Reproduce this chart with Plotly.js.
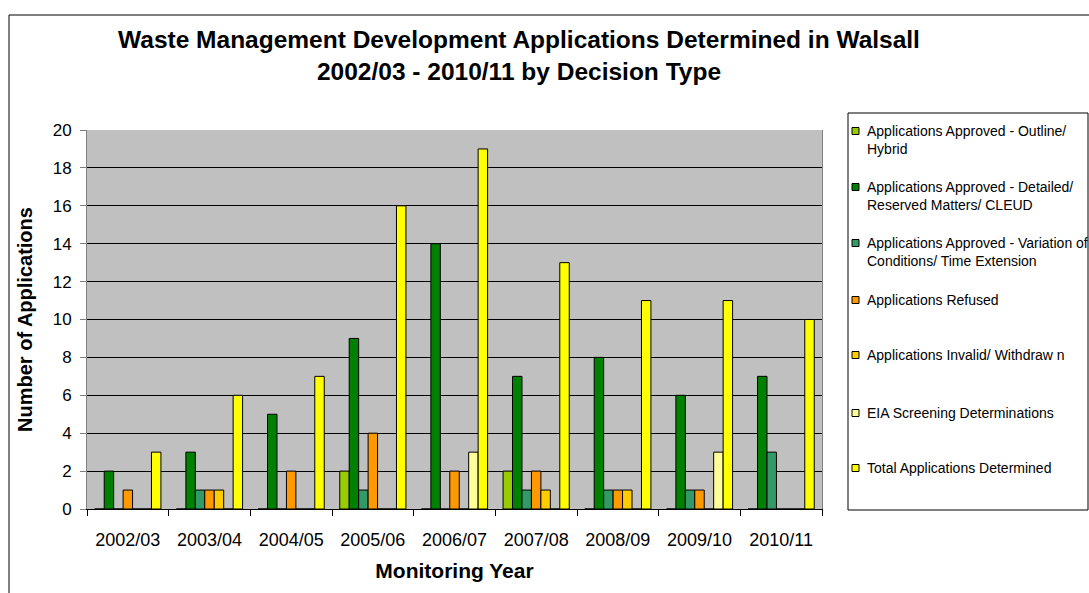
<!DOCTYPE html>
<html>
<head>
<meta charset="utf-8">
<script src="https://cdn.plot.ly/plotly-3.0.1.min.js"></script>
<style>html,body{margin:0;padding:0;background:#fff;}#chart{width:1089px;height:593px;}</style>
</head>
<body>
<div id="chart"></div>
<script>
// ---- data ----
const years = ['2002/03','2003/04','2004/05','2005/06','2006/07','2007/08','2008/09','2009/10','2010/11'];
const outlineHybrid   = [0,0,0,2,0,2,0,0,0];
const detailedCLEUD   = [2,3,5,9,14,7,8,6,7];
const variationTime   = [0,1,0,1,0,1,1,1,3];
const refused         = [1,1,2,4,2,2,1,1,0];
const invalidWithdrawn= [0,1,0,0,0,1,1,0,0];
const eiaScreening    = [0,0,0,0,3,0,0,3,0];
const totalDetermined = [3,6,7,16,19,13,11,11,10];

const seriesNames = [
  'Applications Approved - Outline/<br>Hybrid',
  'Applications Approved - Detailed/<br>Reserved Matters/ CLEUD',
  'Applications Approved - Variation of<br>Conditions/ Time Extension',
  'Applications Refused',
  'Applications Invalid/ Withdraw n',
  'EIA Screening Determinations',
  'Total Applications Determined'
];
const seriesValues = [outlineHybrid, detailedCLEUD, variationTime, refused, invalidWithdrawn, eiaScreening, totalDetermined];
const seriesColors = ['#99CC00','#008000','#339966','#FF9900','#FFCC00','#FFFF99','#FFFF00'];

// ---- geometry helpers (pixel -> paper) ----
const W = 1089, H = 593;
const L = 87, R = 822, T = 130, B = 509;
const px = x => (x - L) / (R - L);
const py = y => (B - y) / (B - T);
const FONT = 'Liberation Sans, Arial, sans-serif';

const traces = seriesValues.map((vals, i) => ({
  type: 'bar',
  x: years,
  y: vals,
  name: seriesNames[i].replace('<br>', ' '),
  marker: {color: seriesColors[i], line: {color: '#000000', width: 1}},
  hoverinfo: 'x+y+name'
}));

const shapes = [
  // outer chart border (top and left visible)
  {type:'line', xref:'paper', yref:'paper', x0:px(9), x1:px(1095), y0:py(15), y1:py(15), line:{color:'#000', width:1}},
  {type:'line', xref:'paper', yref:'paper', x0:px(9), x1:px(9), y0:py(15), y1:py(600), line:{color:'#000', width:1}},
  // legend box
  {type:'rect', xref:'paper', yref:'paper', x0:px(848), x1:px(1088), y0:py(113), y1:py(510), line:{color:'#000', width:1}, fillcolor:'rgba(0,0,0,0)'}
];
const annotations = [];
const legendY = [131, 187, 243, 300, 355, 413, 468];
seriesNames.forEach((nm, i) => {
  const cy = legendY[i];
  shapes.push({type:'rect', xref:'paper', yref:'paper', x0:px(852), x1:px(859), y0:py(cy-3.5), y1:py(cy+3.5),
    fillcolor: seriesColors[i], line:{color:'#000', width:1}});
  annotations.push({xref:'paper', yref:'paper', x:px(865), y:py(cy-10), xanchor:'left', yanchor:'top', align:'left',
    showarrow:false, text: nm, font:{family:FONT, size:14, color:'#000'}});
});

const layout = {
  width: W, height: H,
  margin: {l: L, r: W - R, t: T, b: H - B, pad: 0},
  paper_bgcolor: '#ffffff',
  plot_bgcolor: '#C0C0C0',
  font: {family: FONT, color: '#000'},
  showlegend: false,
  barmode: 'group',
  bargap: 0.19,
  bargroupgap: 0,
  title: {
    text: '<b>Waste Management Development Applications Determined in Walsall<br>2002/03 - 2010/11 by Decision Type</b>',
    font: {family: FONT, size: 24.5, color: '#000'},
    x: 519 / W, xref: 'container', xanchor: 'center',
    y: 1 - 48 / H, yref: 'container', yanchor: 'top'
  },
  xaxis: {
    type: 'category',
    tickson: 'boundaries',
    ticks: 'outside', ticklen: 6, tickcolor: '#000',
    ticklabelstandoff: 14,
    showline: true, linecolor: '#000', linewidth: 1, mirror: false,
    showgrid: false, zeroline: false,
    tickfont: {family: FONT, size: 18, color: '#000'},
    title: {text: '<b>Monitoring Year</b>', font: {family: FONT, size: 21, color: '#000'}, standoff: 14},
    automargin: false
  },
  yaxis: {
    range: [0, 20], dtick: 2, tick0: 0,
    ticks: 'outside', ticklen: 6, tickcolor: '#808080',
    ticklabelstandoff: 5,
    showline: true, linecolor: '#808080', linewidth: 1, mirror: true,
    showgrid: true, gridcolor: '#000000', gridwidth: 1,
    zeroline: false,
    tickfont: {family: FONT, size: 17, color: '#000'},
    title: {text: '<b>Number of Applications</b>', font: {family: FONT, size: 20, color: '#000'}, standoff: 14},
    automargin: false
  },
  shapes: shapes,
  annotations: annotations
};

Plotly.newPlot('chart', traces, layout, {displayModeBar: false, responsive: false});
</script>
</body>
</html>
